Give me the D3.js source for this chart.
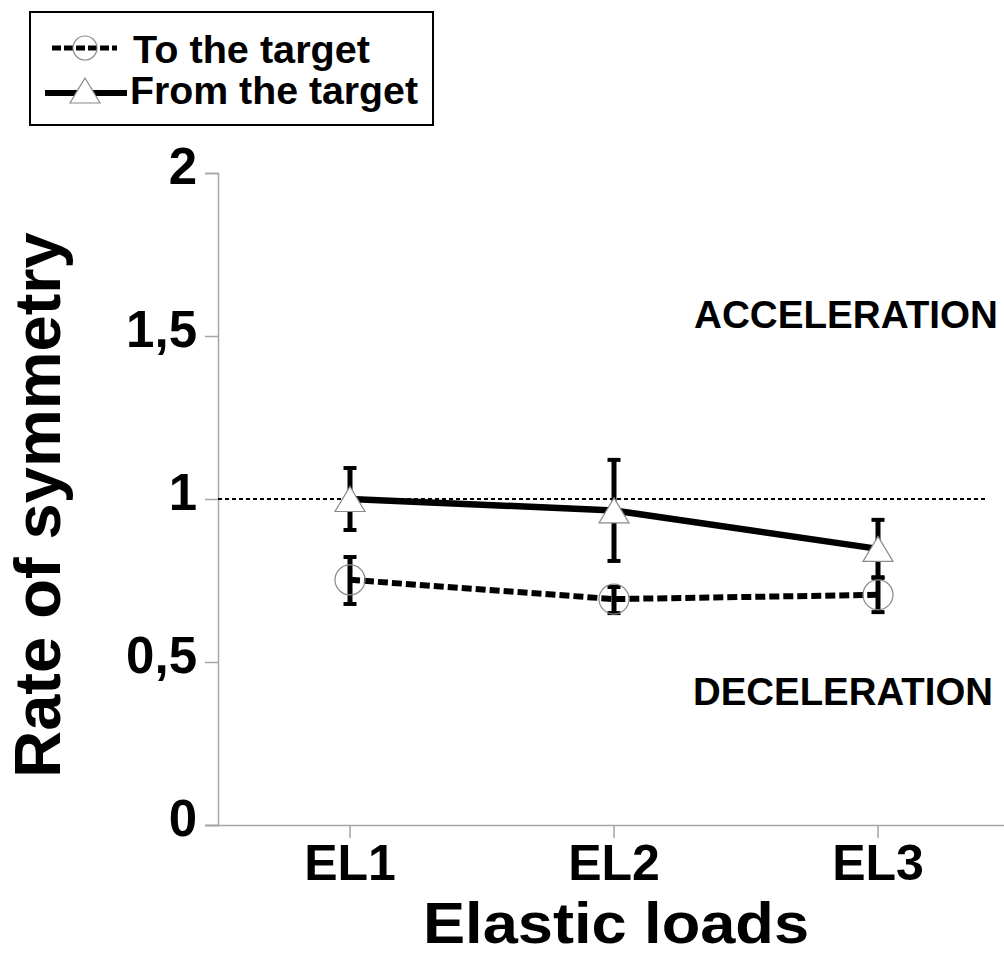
<!DOCTYPE html>
<html>
<head>
<meta charset="utf-8">
<script src="https://cdn.jsdelivr.net/npm/d3@7"></script>
<style>
  html, body { margin: 0; padding: 0; background: #fff; }
  svg { display: block; font-family: "Liberation Sans", Arial, sans-serif; font-weight: bold; }
</style>
</head>
<body>
<svg id="chart" width="1004" height="956"></svg>
<script>
// ---- data ----
const categories = ["EL1", "EL2", "EL3"];
const seriesNames = ["To the target", "From the target"];
const toTarget = [0.752, 0.693, 0.706];
const toTargetLow = [0.678, 0.650, 0.653];
const toTargetHigh = [0.822, 0.730, 0.760];
const fromTarget = [1.000, 0.965, 0.847];
const fromTargetLow = [0.905, 0.810, 0.758];
const fromTargetHigh = [1.095, 1.120, 0.936];
const yTicks = [0, 0.5, 1, 1.5, 2];
const yTickLabels = ["0", "0,5", "1", "1,5", "2"];
const referenceValue = 1;
const xTitle = "Elastic loads";
const yTitle = "Rate of symmetry";
const regionLabels = ["ACCELERATION", "DECELERATION"];

// ---- layout ----
const svg = d3.select("#chart");
const axisColor = "#a6a6a6";
const markerStroke = "#8a8a8a";

const x = d3.scaleBand().domain(categories).range([218, 1010]);
const xc = d => x(d) + x.bandwidth() / 2;
const y = d3.scaleLinear().domain([0, 2]).range([825, 173]);

// Y axis
const yAxisG = svg.append("g").attr("transform", "translate(218,0)")
  .call(d3.axisLeft(y).tickValues(yTicks).tickSize(13).tickPadding(8)
    .tickFormat((d, i) => yTickLabels[i]));
yAxisG.select(".domain").attr("stroke", axisColor).attr("stroke-width", 1.5);
yAxisG.selectAll(".tick line").attr("stroke", axisColor).attr("stroke-width", 1.5);
yAxisG.selectAll(".tick text").attr("font-family", "Liberation Sans, Arial, sans-serif")
  .attr("font-weight", "bold").attr("font-size", 51).attr("fill", "#000")
  .attr("dy", "0").attr("y", 10);

// X axis
const xAxisG = svg.append("g").attr("transform", "translate(0,825)")
  .call(d3.axisBottom(x).tickSize(13).tickPadding(6).tickSizeOuter(0));
xAxisG.select(".domain").attr("d", "M206,0.5H1004").attr("stroke", axisColor).attr("stroke-width", 1.5);
xAxisG.selectAll(".tick line").attr("stroke", axisColor).attr("stroke-width", 1.5);
xAxisG.selectAll(".tick text").attr("font-family", "Liberation Sans, Arial, sans-serif")
  .attr("font-weight", "bold").attr("font-size", 50).attr("fill", "#000")
  .attr("dy", "0").attr("y", 55);

// reference line
svg.append("line")
  .attr("x1", 218).attr("x2", 985)
  .attr("y1", y(referenceValue)).attr("y2", y(referenceValue))
  .attr("stroke", "#000").attr("stroke-width", 2).attr("stroke-dasharray", "4,3");

// region labels
svg.append("text").attr("x", 694).attr("y", 328).attr("font-size", 38)
  .attr("textLength", 304).attr("lengthAdjust", "spacingAndGlyphs").text(regionLabels[0]);
svg.append("text").attr("x", 693).attr("y", 705).attr("font-size", 38)
  .attr("textLength", 300).attr("lengthAdjust", "spacingAndGlyphs").text(regionLabels[1]);

// axis titles
svg.append("text").attr("x", 616).attr("y", 943).attr("text-anchor", "middle")
  .attr("font-size", 58).attr("textLength", 386).attr("lengthAdjust", "spacingAndGlyphs").text(xTitle);
svg.append("text").attr("transform", "translate(60,505) rotate(-90)").attr("text-anchor", "middle")
  .attr("font-size", 65).text(yTitle);

// lines
const line = d3.line().x(d => xc(d.c)).y(d => y(d.v));
const toData = categories.map((c, i) => ({ c, v: toTarget[i], lo: toTargetLow[i], hi: toTargetHigh[i] }));
const fromData = categories.map((c, i) => ({ c, v: fromTarget[i], lo: fromTargetLow[i], hi: fromTargetHigh[i] }));

svg.append("path").attr("d", line(toData)).attr("fill", "none")
  .attr("stroke", "#000").attr("stroke-width", 6).attr("stroke-dasharray", "10,4");
svg.append("path").attr("d", line(fromData)).attr("fill", "none")
  .attr("stroke", "#000").attr("stroke-width", 6.5);

// error bars
function errorBars(data) {
  const g = svg.append("g");
  g.selectAll("line.v").data(data).join("line")
    .attr("x1", d => xc(d.c)).attr("x2", d => xc(d.c))
    .attr("y1", d => y(d.lo)).attr("y2", d => y(d.hi))
    .attr("stroke", "#000").attr("stroke-width", 5);
  ["lo", "hi"].forEach(k => {
    g.selectAll("line." + k).data(data).join("line")
      .attr("x1", d => xc(d.c) - 6.5).attr("x2", d => xc(d.c) + 6.5)
      .attr("y1", d => y(d[k])).attr("y2", d => y(d[k]))
      .attr("stroke", "#000").attr("stroke-width", 4);
  });
}
errorBars(fromData);
errorBars(toData);

// markers
svg.append("g").selectAll("circle").data(toData).join("circle")
  .attr("cx", d => xc(d.c)).attr("cy", d => y(d.v)).attr("r", 15)
  .attr("fill", "none").attr("stroke", markerStroke).attr("stroke-width", 1.2);
const tri = (cx, cy) => `M${cx},${cy - 12.5}L${cx + 15},${cy + 12.5}L${cx - 15},${cy + 12.5}Z`;
svg.append("g").selectAll("path").data(fromData).join("path")
  .attr("d", d => tri(xc(d.c), y(d.v)))
  .attr("fill", "#fff").attr("stroke", markerStroke).attr("stroke-width", 1.2);

// legend
const lg = svg.append("g");
lg.append("rect").attr("x", 30).attr("y", 12).attr("width", 403).attr("height", 113)
  .attr("fill", "#fff").attr("stroke", "#000").attr("stroke-width", 2);
lg.append("line").attr("x1", 52).attr("x2", 117).attr("y1", 48).attr("y2", 48)
  .attr("stroke", "#000").attr("stroke-width", 5).attr("stroke-dasharray", "9,3");
lg.append("circle").attr("cx", 85).attr("cy", 48).attr("r", 12)
  .attr("fill", "none").attr("stroke", markerStroke).attr("stroke-width", 1.2);
lg.append("text").attr("x", 133).attr("y", 63).attr("font-size", 39)
  .attr("textLength", 237).attr("lengthAdjust", "spacingAndGlyphs").text(seriesNames[0]);
lg.append("line").attr("x1", 45).attr("x2", 127).attr("y1", 93).attr("y2", 93)
  .attr("stroke", "#000").attr("stroke-width", 6);
lg.append("path").attr("d", tri(85, 90.5))
  .attr("fill", "#fff").attr("stroke", markerStroke).attr("stroke-width", 1.2);
lg.append("text").attr("x", 130).attr("y", 104).attr("font-size", 39)
  .attr("textLength", 288).attr("lengthAdjust", "spacingAndGlyphs").text(seriesNames[1]);
</script>
</body>
</html>
